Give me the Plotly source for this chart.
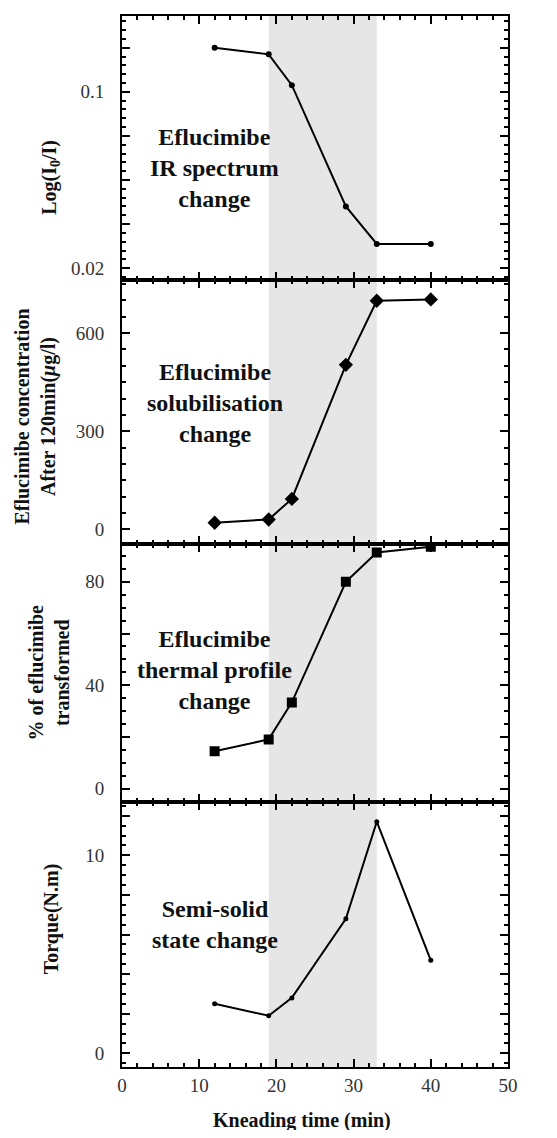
import plotly.graph_objects as go
from plotly.subplots import make_subplots

# kneading time (min) and the four measured responses
time_min = [12, 19, 22, 29, 33, 40]
ir_log = [0.120, 0.117, 0.103, 0.048, 0.031, 0.031]
concentration = [20, 30, 93, 503, 699, 703]
transformed = [14.5, 19.1, 33.4, 80.0, 91.3, 93.5]
torque = [2.5, 1.9, 2.8, 6.8, 11.7, 4.7]

shade_start, shade_end = 19, 33

panel_text = [
    "Eflucimibe<br>IR spectrum<br>change",
    "Eflucimibe<br>solubilisation<br>change",
    "Eflucimibe<br>thermal profile<br>change",
    "Semi-solid<br>state change",
]
y_titles = [
    "Log(I<sub>0</sub>/I)",
    "Eflucimibe concentration<br>After 120min(<i>μ</i>g/l)",
    "% of eflucimibe<br>transformed",
    "Torque(N.m)",
]

serif = "Liberation Serif, Times New Roman, serif"

fig = make_subplots(rows=4, cols=1, shared_xaxes=True, vertical_spacing=0,
                    row_heights=[265, 264, 258, 266])

series = [
    (ir_log, "circle", 6),
    (concentration, "diamond", 11),
    (transformed, "square", 10),
    (torque, "circle", 5),
]
for i, (vals, sym, size) in enumerate(series, start=1):
    fig.add_trace(go.Scatter(
        x=time_min, y=vals, mode="lines+markers",
        line=dict(color="black", width=2),
        marker=dict(symbol=sym, size=size, color="black"),
        showlegend=False,
    ), row=i, col=1)
    fig.add_vrect(x0=shade_start, x1=shade_end, fillcolor="#e6e6e6",
                  line_width=0, layer="below", row=i, col=1)

axis_common = dict(
    showline=True, linecolor="black", linewidth=2, mirror="allticks",
    ticks="inside", ticklen=8, tickwidth=1.5, tickcolor="black",
    showgrid=False, zeroline=False,
    tickfont=dict(family=serif, size=19, color="#333"),
)

for i in range(1, 5):
    fig.update_xaxes(range=[0, 50], dtick=10,
                     minor=dict(dtick=2, ticks="inside", ticklen=4,
                                tickcolor="black", showgrid=False),
                     showticklabels=(i == 4), ticklabelstandoff=0,
                     row=i, col=1, **axis_common)

fig.update_yaxes(range=[0.0144, 0.1344],
                 tickvals=[0.02, 0.04, 0.06, 0.08, 0.1, 0.12],
                 ticktext=["0.02", " ", " ", " ", "0.1", " "],
                 minor=dict(dtick=0.004, ticks="inside", ticklen=4,
                            tickcolor="black", showgrid=False),
                 ticklabelstandoff=12, row=1, col=1, **axis_common)
fig.update_yaxes(range=[-45, 761], tickvals=[0, 300, 600],
                 minor=dict(dtick=50, ticks="inside", ticklen=4,
                            tickcolor="black", showgrid=False),
                 ticklabelstandoff=12, row=2, col=1, **axis_common)
fig.update_yaxes(range=[-4.9, 94.6], tickvals=[0, 20, 40, 60, 80],
                 ticktext=["0", " ", "40", " ", "80"],
                 minor=dict(dtick=5, ticks="inside", ticklen=4,
                            tickcolor="black", showgrid=False),
                 ticklabelstandoff=12, row=3, col=1, **axis_common)
fig.update_yaxes(range=[-0.69, 12.72], tickvals=[0, 2, 4, 6, 8, 10, 12],
                 ticktext=["0", " ", " ", " ", " ", "10", " "],
                 minor=dict(dtick=0.5, ticks="inside", ticklen=4,
                            tickcolor="black", showgrid=False),
                 ticklabelstandoff=12, row=4, col=1, **axis_common)

# in-panel labels
text_y = [0.427, 0.535, 0.512, 0.535]
for i, (txt, ty) in enumerate(zip(panel_text, text_y), start=1):
    xref = "x" if i == 1 else f"x{i}"
    yref = "y domain" if i == 1 else f"y{i} domain"
    fig.add_annotation(x=12, y=ty, xref=xref, yref=yref, text=f"<b>{txt}</b>",
                       showarrow=False, align="center",
                       font=dict(family=serif, size=24, color="#111"))

# y axis titles
title_pos = [(-0.184, 0.847), (-0.225, 0.619), (-0.19, 0.375), (-0.184, 0.1415)]
for txt, (tx, ty) in zip(y_titles, title_pos):
    fig.add_annotation(x=tx, y=ty, xref="paper", yref="paper",
                       text=f"<b>{txt}</b>", textangle=-90, showarrow=False,
                       align="center", xanchor="center", yanchor="middle",
                       font=dict(family=serif, size=20, color="#111"))

fig.add_annotation(x=0.466, y=-0.0505, xref="paper", yref="paper",
                   text="<b>Kneading time (min)</b>", showarrow=False,
                   xanchor="center", yanchor="middle",
                   font=dict(family=serif, size=20, color="#111"))

# page body adds an 8px offset, so the figure is sized to fit inside it
fig.update_layout(
    width=541, height=1122,
    margin=dict(l=114, r=41, t=6, b=63),
    plot_bgcolor="white", paper_bgcolor="white",
)

fig.write_html("out.html")
